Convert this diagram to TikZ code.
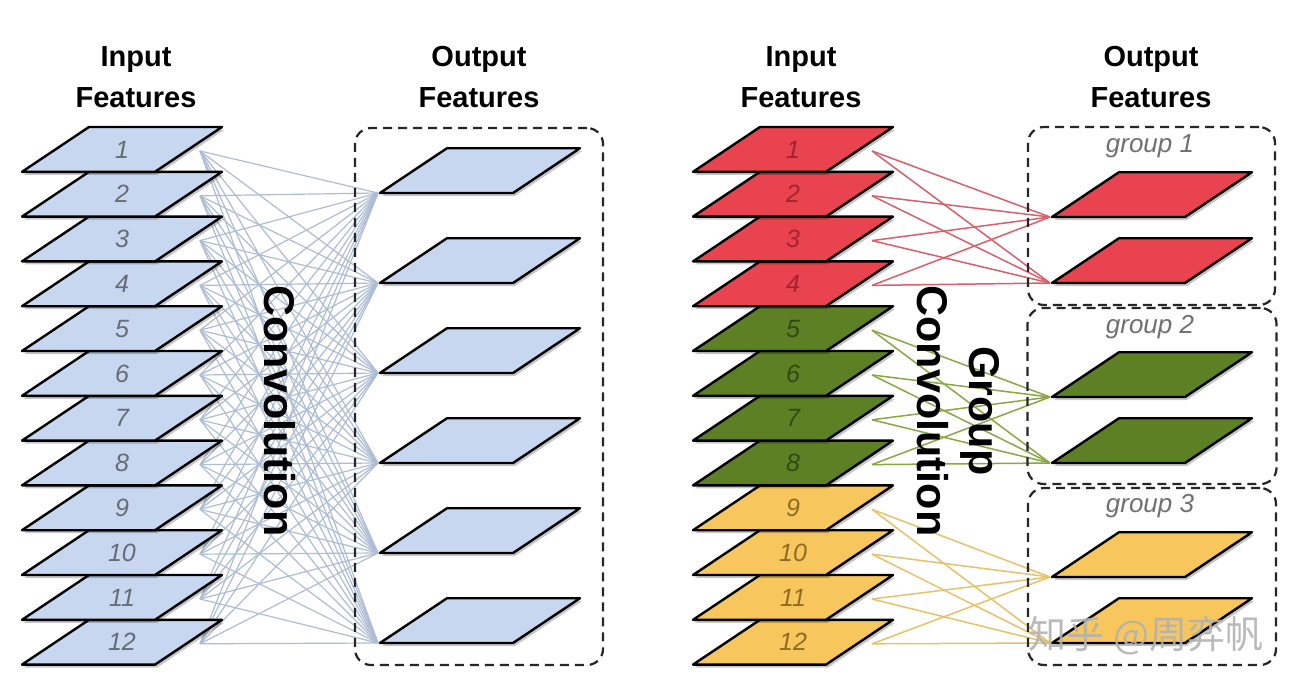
\documentclass[tikz,border=0pt]{standalone}
\usepackage{fontspec}
\setmainfont{Liberation Sans}
\newfontfamily\cjkfont{Noto Sans CJK SC}
\usetikzlibrary{calc}
\definecolor{slabblue}{HTML}{C6D7EF}
\definecolor{slabred}{HTML}{E8434E}
\definecolor{slabgreen}{HTML}{5E8025}
\definecolor{slabyellow}{HTML}{F7C65C}
\definecolor{lineblue}{HTML}{AEBDD4}
\definecolor{linered}{HTML}{D9606B}
\definecolor{linegreen}{HTML}{88A845}
\definecolor{lineyellow}{HTML}{E6C36A}
\definecolor{numblue}{HTML}{666C75}
\definecolor{numred}{HTML}{A3242F}
\definecolor{numgreen}{HTML}{324A14}
\definecolor{numyellow}{HTML}{8E6D22}
\definecolor{grplabel}{HTML}{707070}
\tikzset{
  slabline/.style={draw=black,line width=2.4pt,line join=round},
  conn/.style={line width=1.2pt},
  gconn/.style={line width=1.5pt},
  grpbox/.style={draw=black!85,line width=2.2pt,dash pattern=on 9pt off 6pt,rounded corners=16pt,inner sep=0pt},
  titletext/.style={font=\fontsize{29}{36}\selectfont\bfseries,inner sep=0pt},
  numtext/.style={font=\fontsize{25}{25}\selectfont\itshape,inner sep=0pt},
  grptext/.style={font=\fontsize{26}{26}\selectfont\itshape,text=grplabel,inner sep=0pt},
  convtext/.style={font=\fontsize{43}{52}\selectfont\bfseries,rotate=-90,align=center,inner sep=0pt},
  marktext/.style={font=\fontsize{38}{38}\selectfont\cjkfont,inner sep=0pt}
}
% #1 x of bottom-left, #2 y of bottom, #3 fill, #4 label, #5 label colour, #6 name
\newcommand\drawslab[6]{%
  \fill[black,opacity=.22] (#1+2,#2+3) -- ++(133,0) -- ++(67,-44.8) -- ++(-133,0) -- cycle;
  \draw[slabline,fill=#3] (#1,#2) -- ++(133,0) -- ++(67,-44.8) -- ++(-133,0) -- cycle;
  \node[numtext,text=#5] (#6) at (#1+100,#2-22.4) {#4};
}
\begin{document}
\begin{tikzpicture}[x=1pt,y=-1pt]
\useasboundingbox (0,0) rectangle (1292,674);
\fill[white] (0,0) rectangle (1292,674);

% titles
\node[titletext,anchor=base] (L-t1) at (136,67) {Input};
\node[titletext,anchor=base] (L-t2) at (136,108) {Features};
\node[titletext,anchor=base] (L-t3) at (479,67) {Output};
\node[titletext,anchor=base] (L-t4) at (479,108) {Features};
\node[titletext,anchor=base] (R-t1) at (801,67) {Input};
\node[titletext,anchor=base] (R-t2) at (801,108) {Features};
\node[titletext,anchor=base] (R-t3) at (1151,67) {Output};
\node[titletext,anchor=base] (R-t4) at (1151,108) {Features};

% anchor points of connectors
\foreach \i in {1,...,12}{
  \pgfmathsetmacro\yc{127+44.8*(\i-1)+24}
  \coordinate (L-in-\i) at (200,\yc);
  \coordinate (R-in-\i) at (872,\yc);
}
\foreach \k in {1,...,6}{
  \pgfmathsetmacro\yb{193+90*(\k-1)}
  \coordinate (L-out-\k) at (378,\yb);
}
\foreach \yb [count=\k] in {217,283,397,463,577,643}{
  \coordinate (R-out-\k) at (1050,\yb);
}

% connectors
\foreach \i in {1,...,12}{
  \foreach \k in {1,...,6}{
    \draw[conn,lineblue] (L-in-\i) -- (L-out-\k);
  }
}
\foreach \g/\lc in {0/linered,1/linegreen,2/lineyellow}{
  \foreach \j in {1,...,4}{
    \foreach \m in {1,2}{
      \pgfmathtruncatemacro\ii{4*\g+\j}
      \pgfmathtruncatemacro\kk{2*\g+\m}
      \draw[gconn,\lc] (R-in-\ii) -- (R-out-\kk);
    }
  }
}

% dashed boxes
\node[grpbox,minimum width=248pt,minimum height=537pt] (L-box) at (479,396.5) {};
\node[grpbox,minimum width=247pt,minimum height=178pt] (G1-box) at (1151.5,216) {};
\node[grpbox,minimum width=249pt,minimum height=176pt] (G2-box) at (1152,396) {};
\node[grpbox,minimum width=248pt,minimum height=177pt] (G3-box) at (1152,576.5) {};
\node[grptext,anchor=base] (G1-lab) at (1150,153) {group 1};
\node[grptext,anchor=base] (G2-lab) at (1150,333) {group 2};
\node[grptext,anchor=base] (G3-lab) at (1150,512) {group 3};

% input slabs (bottom to top so upper ones overlap)
\foreach \i in {12,11,...,1}{
  \pgfmathsetmacro\yb{127+44.8*\i}
  \drawslab{22}{\yb}{slabblue}{\i}{numblue}{L-num-\i}
}
\foreach \i/\f/\c in {12/slabyellow/numyellow,11/slabyellow/numyellow,10/slabyellow/numyellow,9/slabyellow/numyellow,
                      8/slabgreen/numgreen,7/slabgreen/numgreen,6/slabgreen/numgreen,5/slabgreen/numgreen,
                      4/slabred/numred,3/slabred/numred,2/slabred/numred,1/slabred/numred}{
  \pgfmathsetmacro\yb{127+44.8*\i}
  \drawslab{693}{\yb}{\f}{\i}{\c}{R-num-\i}
}

% output slabs
\foreach \k in {1,...,6}{
  \pgfmathsetmacro\yb{193+90*(\k-1)}
  \drawslab{380}{\yb}{slabblue}{}{numblue}{L-o-\k}
}
\foreach \yb/\f [count=\k] in {217/slabred,283/slabred,397/slabgreen,463/slabgreen,577/slabyellow,643/slabyellow}{
  \drawslab{1052}{\yb}{\f}{}{numblue}{R-o-\k}
}

% convolution labels
\node[convtext] (L-conv) at (280,411) {Convolution};
\node[convtext] (R-conv) at (958,411) {Group\\Convolution};

% watermark
\node[marktext,text=black!30,opacity=.9] (mark) at (1146,636) {知乎 @周弈帆};
\end{tikzpicture}
\end{document}
